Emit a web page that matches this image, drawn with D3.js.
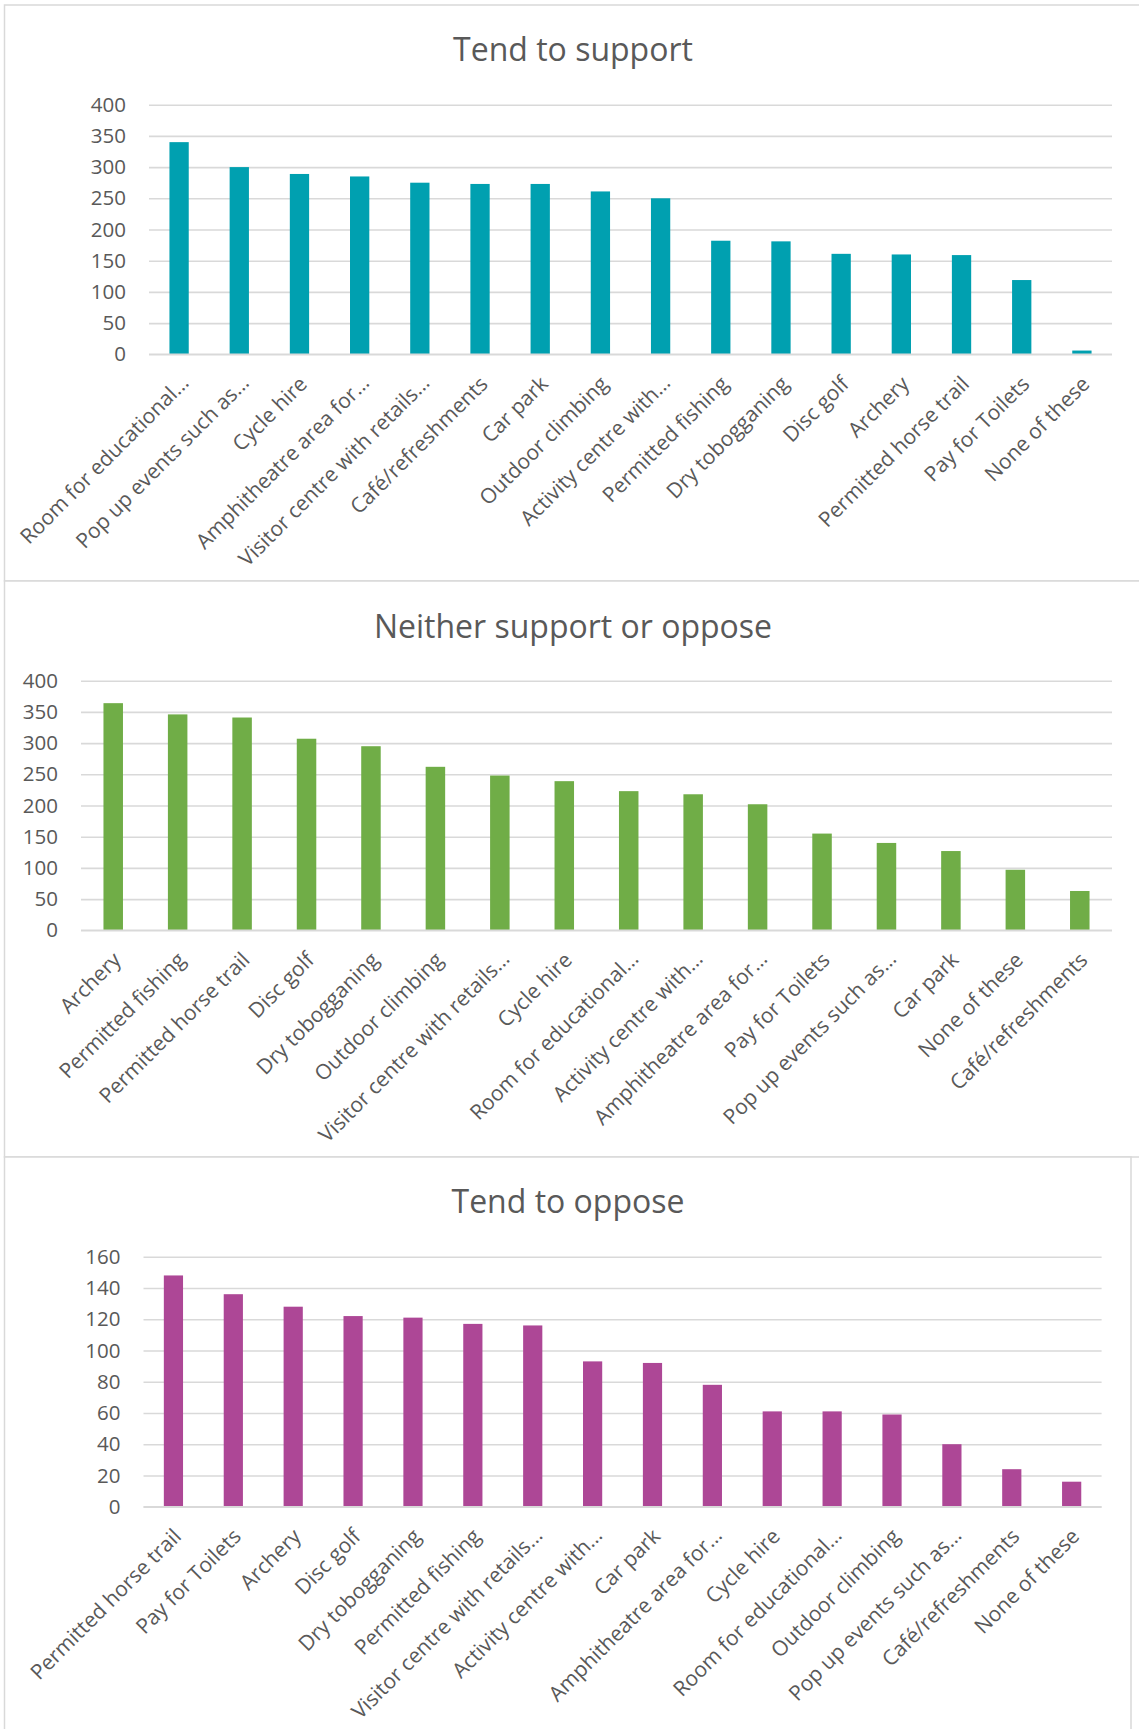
<!DOCTYPE html>
<html>
<head>
<meta charset="utf-8">
<script src="https://cdn.jsdelivr.net/npm/d3@7"></script>
<style>
  html, body { margin: 0; padding: 0; background: #ffffff; }
  svg { display: block; }
  text { font-family: "Open Sans", "Noto Sans", sans-serif; fill: #595959; }
</style>
</head>
<body>
<svg id="chart" width="1139" height="1729"></svg>
<script>
// ---------- DATA ----------
const supportTitle = "Tend to support";
const supportCategories = ["Room for educational…", "Pop up events such as…", "Cycle hire", "Amphitheatre area for…", "Visitor centre with retails…", "Café/refreshments", "Car park", "Outdoor climbing", "Activity centre with…", "Permitted fishing", "Dry tobogganing", "Disc golf", "Archery", "Permitted horse trail", "Pay for Toilets", "None of these"];
const supportValues = [340, 300, 289, 285, 275, 273, 273, 261, 250, 182, 181, 161, 160, 159, 119, 6];
const supportTicks = [0, 50, 100, 150, 200, 250, 300, 350, 400];

const neitherTitle = "Neither support or oppose";
const neitherCategories = ["Archery", "Permitted fishing", "Permitted horse trail", "Disc golf", "Dry tobogganing", "Outdoor climbing", "Visitor centre with retails…", "Cycle hire", "Room for educational…", "Activity centre with…", "Amphitheatre area for…", "Pay for Toilets", "Pop up events such as…", "Car park", "None of these", "Café/refreshments"];
const neitherValues = [364, 346, 341, 307, 295, 262, 248, 239, 223, 218, 202, 155, 140, 127, 97, 63];
const neitherTicks = [0, 50, 100, 150, 200, 250, 300, 350, 400];

const opposeTitle = "Tend to oppose";
const opposeCategories = ["Permitted horse trail", "Pay for Toilets", "Archery", "Disc golf", "Dry tobogganing", "Permitted fishing", "Visitor centre with retails…", "Activity centre with…", "Car park", "Amphitheatre area for…", "Cycle hire", "Room for educational…", "Outdoor climbing", "Pop up events such as…", "Café/refreshments", "None of these"];
const opposeValues = [148, 136, 128, 122, 121, 117, 116, 93, 92, 78, 61, 61, 59, 40, 24, 16];
const opposeTicks = [0, 20, 40, 60, 80, 100, 120, 140, 160];

// ---------- LAYOUT ----------
const svg = d3.select("#chart");
const gridColor = "#d9d9d9";
const textColor = "#595959";

function drawChart(cfg) {
  const g = svg.append("g");
  // frame
  g.append("rect")
    .attr("x", cfg.box[0]).attr("y", cfg.box[1])
    .attr("width", cfg.box[2]).attr("height", cfg.box[3])
    .attr("fill", "#ffffff").attr("stroke", gridColor).attr("stroke-width", 1.5);

  // title
  g.append("text")
    .attr("x", cfg.titleX).attr("y", cfg.titleY)
    .attr("text-anchor", "middle")
    .style("font-size", "32px")
    .style("fill", textColor)
    .text(cfg.title);

  const step = (cfg.right - cfg.left) / cfg.categories.length;
  const pad = 1 - cfg.barWidth / step;
  const x = d3.scaleBand()
    .domain(cfg.categories)
    .range([cfg.left, cfg.right])
    .paddingInner(pad)
    .paddingOuter(pad / 2);

  const y = d3.scaleLinear()
    .domain([0, d3.max(cfg.ticks)])
    .range([cfg.bottom, cfg.top]);

  // gridlines + y tick labels via axis
  const yAxis = d3.axisLeft(y)
    .tickValues(cfg.ticks)
    .tickSize(-(cfg.right - cfg.left))
    .tickPadding(23)
    .tickFormat(d3.format("d"));
  const ya = g.append("g")
    .attr("transform", `translate(${cfg.left},0)`)
    .call(yAxis);
  ya.select(".domain").remove();
  ya.selectAll(".tick line").attr("stroke", gridColor).attr("stroke-width", 1.6);
  ya.selectAll(".tick text")
    .style("font-size", "20.5px")
    .style("font-family", '"Open Sans", sans-serif')
    .attr("fill", textColor);

  // bars
  g.append("g").selectAll("rect")
    .data(cfg.values)
    .join("rect")
    .attr("x", (d, i) => x(cfg.categories[i]))
    .attr("y", d => y(d))
    .attr("width", x.bandwidth())
    .attr("height", d => cfg.bottom - y(d))
    .attr("fill", cfg.color);

  // baseline redraw on top
  g.append("line")
    .attr("x1", cfg.left).attr("x2", cfg.right)
    .attr("y1", cfg.bottom).attr("y2", cfg.bottom)
    .attr("stroke", gridColor).attr("stroke-width", 1.6);

  // x axis labels
  const xAxis = d3.axisBottom(x).tickSize(0).tickPadding(0);
  const xa = g.append("g")
    .attr("transform", `translate(0,${cfg.bottom})`)
    .call(xAxis);
  xa.select(".domain").remove();
  xa.selectAll(".tick text")
    .style("font-size", "21px")
    .style("font-family", '"Open Sans", sans-serif')
    .attr("fill", textColor)
    .attr("text-anchor", "end")
    .attr("dy", null)
    .attr("y", 0)
    .attr("transform", d => d.endsWith("…")
      ? "translate(11,30) rotate(-45)"
      : "translate(9,31) rotate(-45)");
}

drawChart({
  box: [4.5, 5, 1145, 576],
  title: supportTitle, titleX: 573, titleY: 61,
  categories: supportCategories, values: supportValues, ticks: supportTicks,
  left: 149, right: 1112, top: 104.7, bottom: 354.3,
  barWidth: 19.3, color: "#00A0B0"
});

drawChart({
  box: [4.5, 581, 1145, 576],
  title: neitherTitle, titleX: 573, titleY: 638,
  categories: neitherCategories, values: neitherValues, ticks: neitherTicks,
  left: 81, right: 1112, top: 680.7, bottom: 930.3,
  barWidth: 19.5, color: "#70AD47"
});

drawChart({
  box: [4.5, 1157, 1126.5, 590],
  title: opposeTitle, titleX: 568, titleY: 1213,
  categories: opposeCategories, values: opposeValues, ticks: opposeTicks,
  left: 143.5, right: 1101.6, top: 1256.7, bottom: 1506.7,
  barWidth: 19.2, color: "#AD4796"
});
</script>
</body>
</html>
